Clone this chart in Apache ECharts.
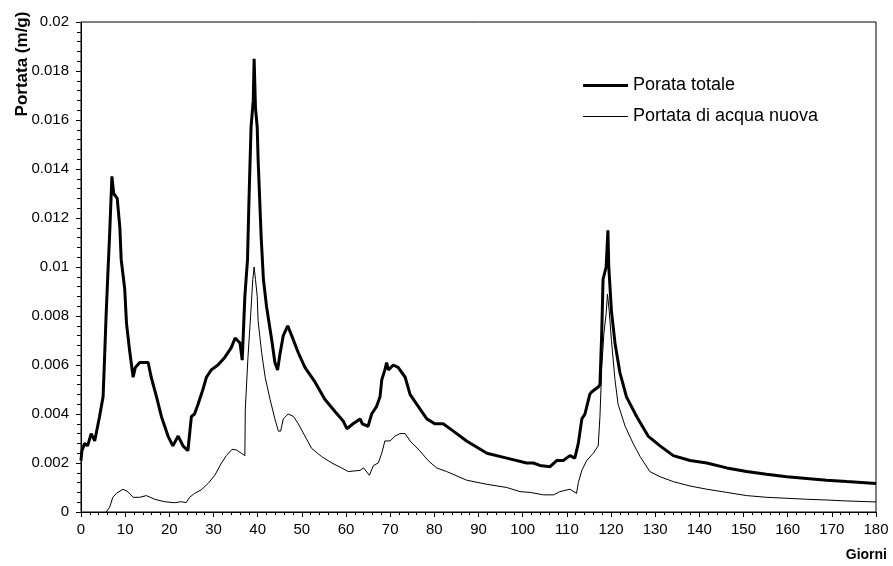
<!DOCTYPE html>
<html>
<head>
<meta charset="utf-8">
<script src="https://cdn.jsdelivr.net/npm/echarts@6/dist/echarts.min.js"></script>
<style>html,body{margin:0;padding:0;background:#fff}#c{width:893px;height:566px}</style>
</head>
<body>
<div id="c"></div>
<script>
const seriesNames = ["Porata totale", "Portata di acqua nuova"];
const xTitle = "Giorni";
const yTitle = "Portata (m/g)";

const totalDays = [0,0.2,0.83,1.5,2.3,3.1,4.2,5.0,5.4,5.7,6.1,6.5,7.0,7.4,8.2,8.8,9.1,9.9,10.3,11.0,11.8,12.3,13.3,14.4,15.2,15.9,17.1,18.2,19.7,20.8,22.0,23.1,24.2,25.0,25.7,26.5,27.6,28.4,29.5,31.0,32.5,34.0,34.9,36.0,36.5,36.9,37.1,37.7,38.0,38.5,39.0,39.2,39.5,39.9,40.1,40.8,41.3,42.0,43.2,43.9,44.5,45.1,45.8,46.8,47.7,49.2,50.7,53.0,55.2,57.5,59.4,60.2,61.6,63.2,63.7,65.0,65.8,66.9,67.7,68.1,68.8,69.2,69.6,70.7,71.8,73.4,74.5,76.0,78.3,80.1,82.0,84.3,87.3,91.9,96.4,100.9,102.4,103.9,106.2,107.7,109.2,110.7,111.8,112.2,112.6,113.4,114.1,115.2,115.6,117.1,117.5,117.9,118.2,118.9,119.3,119.5,120.1,120.9,122.0,123.5,125.8,128.4,131.1,134.1,137.9,141.7,146.2,150.7,155.2,159.8,164.3,168.8,173.4,180];
const totalValues = [0.0021,0.0025,0.0028,0.0027,0.0032,0.0029,0.0039,0.0047,0.0066,0.0081,0.0098,0.0114,0.0137,0.0130,0.0128,0.0116,0.0103,0.0091,0.0077,0.0066,0.0055,0.0059,0.0061,0.0061,0.0061,0.0055,0.0047,0.0039,0.0031,0.0027,0.0031,0.0027,0.0025,0.0039,0.0040,0.0044,0.0050,0.0055,0.0058,0.0060,0.0063,0.0067,0.0071,0.0069,0.0062,0.0062,0.0088,0.0103,0.0125,0.0157,0.0168,0.0185,0.0165,0.0157,0.0144,0.0112,0.0095,0.0084,0.0070,0.0061,0.0058,0.0065,0.0072,0.0076,0.0072,0.0065,0.0059,0.0053,0.0046,0.0041,0.0037,0.0034,0.0036,0.0038,0.0036,0.0035,0.0040,0.0043,0.0047,0.0054,0.0058,0.0061,0.0058,0.0060,0.0059,0.0055,0.0048,0.0044,0.0038,0.0036,0.0036,0.0033,0.0029,0.0024,0.0022,0.0020,0.0020,0.0019,0.00185,0.0021,0.0021,0.0023,0.0022,0.0022,0.0028,0.0038,0.0040,0.0048,0.0049,0.0051,0.0052,0.0073,0.0095,0.0100,0.0115,0.0100,0.0082,0.0069,0.0057,0.0047,0.0039,0.0031,0.0027,0.0023,0.0021,0.0020,0.0018,0.00165,0.00154,0.00144,0.00137,0.0013,0.00124,0.00116];

const newDays = [5.7,6.5,7.2,8.0,9.5,10.6,11.8,13.3,14.8,16.7,18.9,21.2,22.7,23.8,24.6,25.7,27.2,28.8,30.3,31.8,32.9,34.2,35.2,36.3,37.1,37.2,37.8,38.4,38.9,39.2,39.5,39.9,40.1,40.9,41.7,42.8,43.9,44.7,45.2,45.8,46.9,48.1,49.2,50.7,52.2,54.5,56.8,59.0,60.5,63.2,64.0,65.3,66.2,67.3,68.1,68.8,70.0,71.1,72.2,73.4,74.5,76.7,78.6,80.5,82.8,87.3,91.9,96.4,99.4,101.7,104.7,107.0,108.4,110.7,112.2,112.6,113.4,114.5,116.0,117.1,117.5,117.9,118.4,118.9,119.2,119.6,120.1,120.9,121.6,123.2,125.0,126.6,128.8,131.1,134.1,137.9,141.7,146.2,150.7,155.2,159.8,164.3,168.8,173.4,180];
const newValues = [0,0.0002,0.0006,0.00076,0.00093,0.00083,0.0006,0.0006,0.00067,0.00052,0.00042,0.00038,0.00042,0.00038,0.0006,0.00076,0.0009,0.00117,0.0015,0.0020,0.0023,0.00256,0.00253,0.0024,0.0023,0.0042,0.0063,0.0080,0.0095,0.0100,0.0095,0.0088,0.0078,0.0065,0.0055,0.0046,0.0038,0.0033,0.0033,0.0038,0.0040,0.0039,0.0036,0.0031,0.0026,0.00226,0.0020,0.0018,0.00165,0.0017,0.0018,0.0015,0.0019,0.0020,0.0024,0.0029,0.0029,0.0031,0.0032,0.0032,0.0029,0.0025,0.0021,0.0018,0.00165,0.0013,0.00113,0.0010,0.00083,0.0008,0.0007,0.0007,0.00083,0.00093,0.00076,0.0012,0.0017,0.0021,0.0024,0.0027,0.0039,0.0059,0.0073,0.0081,0.0089,0.0082,0.0070,0.0054,0.0044,0.0035,0.0028,0.00226,0.00165,0.00144,0.00124,0.00106,0.00093,0.0008,0.00067,0.0006,0.00056,0.00052,0.00049,0.00045,0.00041];

const xMin = 0, xMax = 180, xStep = 10;
const yMin = 0, yMax = 0.02, yStep = 0.002;

const FONT = '"Liberation Sans", Arial, sans-serif';
const pair = (xs, ys) => xs.map((x, i) => [x, ys[i]]);
// legend icons: thick bar fills the 45x3 box, thin bar occupies only the middle third
const thickIcon = 'rect';
const thinIcon = 'path://M0,0H0.01V0.01H0Z M0,1H45V2H0Z M0,3H0.01V3.01H0Z';

const chart = echarts.init(document.getElementById('c'), null, {renderer: 'canvas'});
chart.setOption({
  animation: false,
  backgroundColor: '#fff',
  textStyle: {fontFamily: FONT, color: '#000'},
  grid: {left: 81, right: 17, top: 22, bottom: 54, show: true, borderColor: '#000', borderWidth: 1, backgroundColor: 'transparent'},
  legend: {
    orient: 'vertical', left: 578, top: 71.5, itemWidth: 45, itemHeight: 3, itemGap: 13,
    textStyle: {fontFamily: FONT, fontSize: 18, color: '#000', lineHeight: 18},
    itemStyle: {color: '#000', borderWidth: 0},
    data: [{name: seriesNames[0], icon: thickIcon}, {name: seriesNames[1], icon: thinIcon}]
  },
  xAxis: {
    type: 'value', min: xMin, max: xMax, interval: xStep,
    axisLine: {onZero: false, lineStyle: {color: '#000', width: 1}},
    axisTick: {show: true, inside: false, length: 5, lineStyle: {color: '#000'}},
    minorTick: {show: true, splitNumber: 5, length: 3, lineStyle: {color: '#000'}},
    splitLine: {show: false},
    axisLabel: {fontFamily: FONT, fontSize: 15, color: '#000', margin: 10}
  },
  yAxis: {
    type: 'value', min: yMin, max: yMax, interval: yStep,
    axisLine: {onZero: false, lineStyle: {color: '#000', width: 1}},
    axisTick: {show: true, inside: false, length: 5, lineStyle: {color: '#000'}},
    minorTick: {show: true, splitNumber: 5, length: 4, lineStyle: {color: '#000'}},
    splitLine: {show: false},
    axisLabel: {fontFamily: FONT, fontSize: 15, color: '#000', margin: 12}
  },
  graphic: [
    {type: 'text', x: 22, y: 64, rotation: Math.PI / 2,
     style: {text: yTitle, font: 'bold 17px ' + FONT, fill: '#000', textAlign: 'center', textVerticalAlign: 'middle'}},
    {type: 'text', x: 887, y: 555,
     style: {text: xTitle, font: 'bold 14px ' + FONT, fill: '#000', textAlign: 'right', textVerticalAlign: 'middle'}}
  ],
  series: [
    {name: seriesNames[0], type: 'line', data: pair(totalDays, totalValues), showSymbol: false, symbol: 'none',
     lineStyle: {color: '#000', width: 3}, itemStyle: {color: '#000'}, z: 3},
    {name: seriesNames[1], type: 'line', data: pair(newDays, newValues), showSymbol: false, symbol: 'none',
     lineStyle: {color: '#000', width: 1}, itemStyle: {color: '#000'}, z: 2}
  ]
});
</script>
</body>
</html>
